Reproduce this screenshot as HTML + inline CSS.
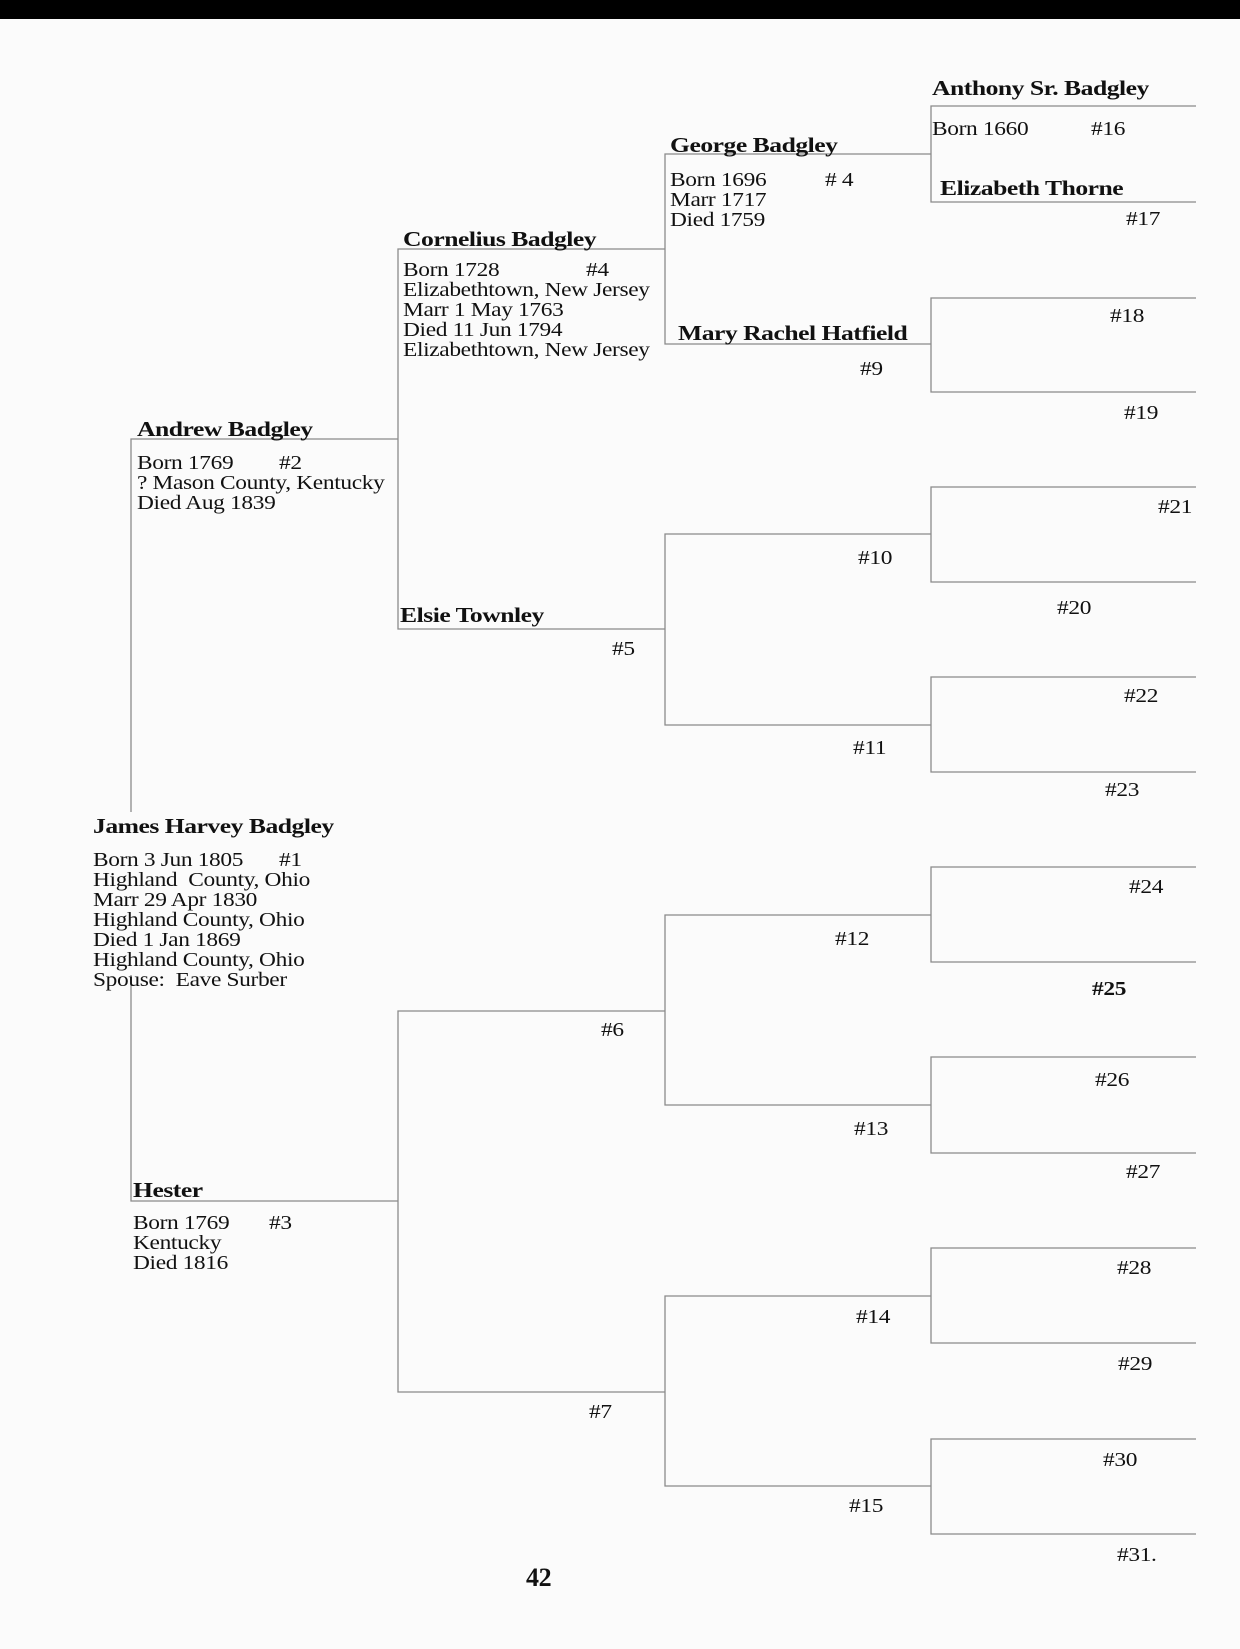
<!DOCTYPE html>
<html><head><meta charset="utf-8"><style>
html,body{margin:0;padding:0}
body{width:1240px;height:1649px;position:relative;background:#fbfbfb;overflow:hidden;font-family:"Liberation Serif",serif;color:#111}
.bar{position:absolute;left:0;top:0;width:1240px;height:19px;background:#000}
.t{position:absolute;font-size:20px;line-height:20px;white-space:pre;letter-spacing:-0.3px;transform:scaleX(1.17);transform-origin:0 0}
.n{position:absolute;font-size:21px;line-height:22px;font-weight:bold;white-space:pre;letter-spacing:-0.4px;transform:scaleX(1.22);transform-origin:0 0}
svg{position:absolute;left:0;top:0}
</style></head><body>
<div class="bar"></div>
<svg width="1240" height="1649">
<g stroke="#8a8a8a" stroke-width="1.3" fill="none">
<path d="M1196 106H931V202H1196"/>
<path d="M1196 298H931V392H1196"/>
<path d="M1196 487H931V582H1196"/>
<path d="M1196 677H931V772H1196"/>
<path d="M1196 867H931V962H1196"/>
<path d="M1196 1057H931V1153H1196"/>
<path d="M1196 1248H931V1343H1196"/>
<path d="M1196 1439H931V1534H1196"/>
<path d="M931 154H665V344H931"/>
<path d="M931 534H665V725H931"/>
<path d="M931 915H665V1105H931"/>
<path d="M931 1296H665V1486H931"/>
<path d="M665 249H398V629H665"/>
<path d="M665 1011H398V1392H665"/>
<path d="M398 439H131V812"/>
<path d="M131 975V1201H398"/>
</g></svg>

<div class="n" style="left:932px;top:77px">Anthony Sr. Badgley</div>
<div class="t" style="left:932px;top:119px">Born 1660</div>
<div class="t" style="left:1091px;top:119px">#16</div>
<div class="n" style="left:940px;top:177px">Elizabeth Thorne</div>
<div class="t" style="left:1126px;top:209px">#17</div>

<div class="n" style="left:670px;top:134px">George Badgley</div>
<div class="t" style="left:670px;top:170px">Born 1696
Marr 1717
Died 1759</div>
<div class="t" style="left:825px;top:170px"># 4</div>

<div class="n" style="left:403px;top:228px">Cornelius Badgley</div>
<div class="t" style="left:403px;top:260px">Born 1728
Elizabethtown, New Jersey
Marr 1 May 1763
Died 11 Jun 1794
Elizabethtown, New Jersey</div>
<div class="t" style="left:586px;top:260px">#4</div>

<div class="n" style="left:678px;top:322px">Mary Rachel Hatfield</div>
<div class="t" style="left:860px;top:359px">#9</div>
<div class="t" style="left:1110px;top:306px">#18</div>
<div class="t" style="left:1124px;top:403px">#19</div>

<div class="n" style="left:137px;top:418px">Andrew Badgley</div>
<div class="t" style="left:137px;top:453px">Born 1769
? Mason County, Kentucky
Died Aug 1839</div>
<div class="t" style="left:279px;top:453px">#2</div>

<div class="t" style="left:1158px;top:497px">#21</div>
<div class="t" style="left:858px;top:548px">#10</div>
<div class="t" style="left:1057px;top:598px">#20</div>
<div class="n" style="left:400px;top:604px">Elsie Townley</div>
<div class="t" style="left:612px;top:639px">#5</div>
<div class="t" style="left:1124px;top:686px">#22</div>
<div class="t" style="left:853px;top:738px">#11</div>
<div class="t" style="left:1105px;top:780px">#23</div>

<div class="n" style="left:93px;top:815px">James Harvey Badgley</div>
<div class="t" style="left:93px;top:850px">Born 3 Jun 1805
Highland  County, Ohio
Marr 29 Apr 1830
Highland County, Ohio
Died 1 Jan 1869
Highland County, Ohio
Spouse:  Eave Surber</div>
<div class="t" style="left:279px;top:850px">#1</div>

<div class="t" style="left:1129px;top:877px">#24</div>
<div class="t" style="left:835px;top:929px">#12</div>
<div class="t" style="left:1092px;top:979px;font-weight:bold">#25</div>
<div class="t" style="left:601px;top:1020px">#6</div>
<div class="t" style="left:1095px;top:1070px">#26</div>
<div class="t" style="left:854px;top:1119px">#13</div>
<div class="t" style="left:1126px;top:1162px">#27</div>

<div class="n" style="left:133px;top:1179px">Hester</div>
<div class="t" style="left:133px;top:1213px">Born 1769
Kentucky
Died 1816</div>
<div class="t" style="left:269px;top:1213px">#3</div>

<div class="t" style="left:1117px;top:1258px">#28</div>
<div class="t" style="left:856px;top:1307px">#14</div>
<div class="t" style="left:1118px;top:1354px">#29</div>
<div class="t" style="left:589px;top:1402px">#7</div>
<div class="t" style="left:1103px;top:1450px">#30</div>
<div class="t" style="left:849px;top:1496px">#15</div>
<div class="t" style="left:1117px;top:1545px">#31.</div>

<div class="n" style="left:526px;top:1564px;font-size:26px;line-height:28px;transform:none">42</div>
</body></html>
